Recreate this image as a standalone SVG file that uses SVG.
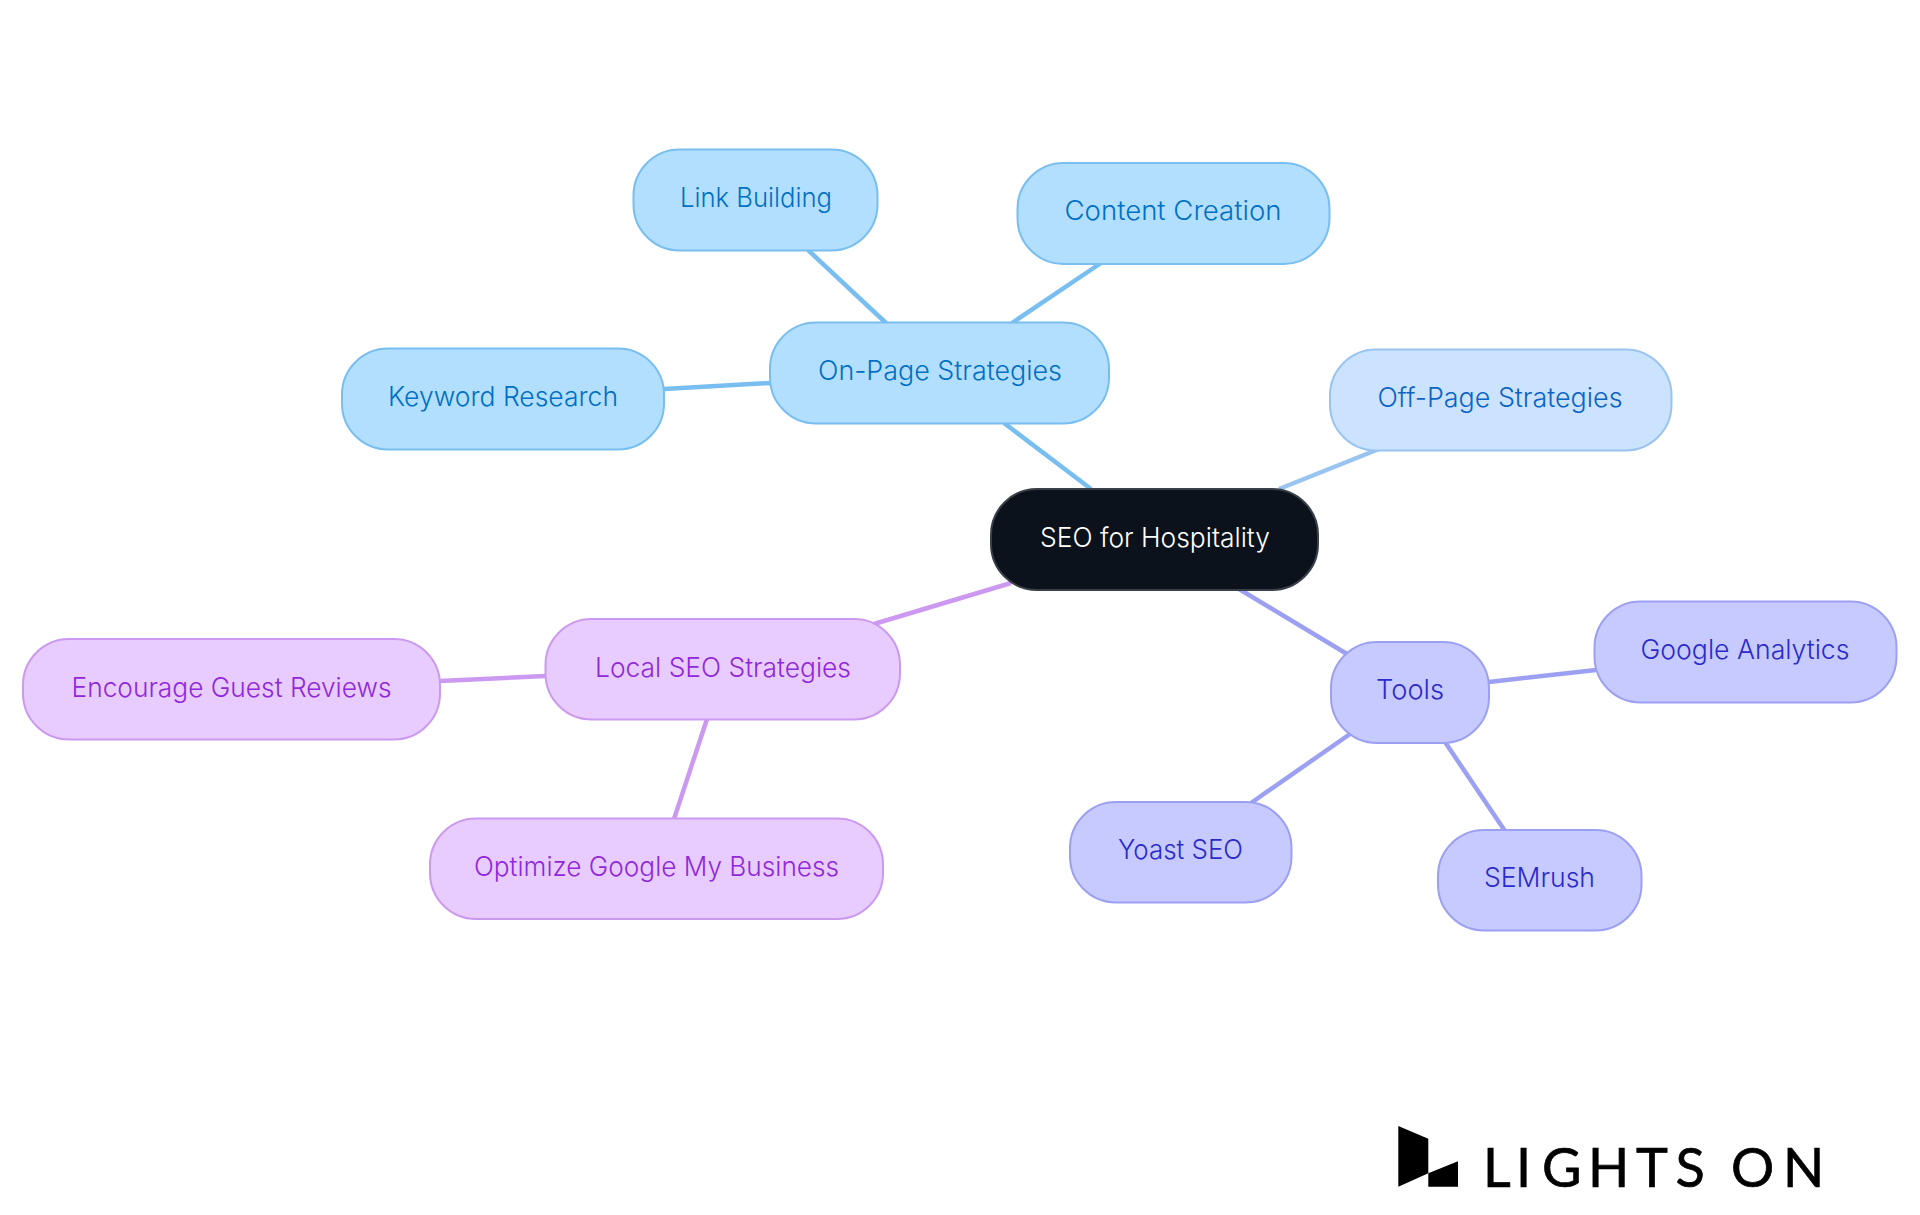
<svg xmlns="http://www.w3.org/2000/svg" width="1920" height="1215" viewBox="0 0 1920 1215">
<style>
.n rect{stroke-width:2}
.n text{font-family:"Inter","Noto Sans",sans-serif;font-size:27px;font-weight:350;text-anchor:middle}
.blue rect{fill:#B3DFFF;stroke:#78BEF0}.blue text{fill:#0070C4}
.off rect{fill:#CCE3FF;stroke:#99C4F0}.off text{fill:#0B63C5}
.ind rect{fill:#C7CAFF;stroke:#9CA0F2}.ind text{fill:#2B2BC9}
.pur rect{fill:#E8CCFF;stroke:#CC99F0}.pur text{fill:#9028D9}
.root rect{fill:#0B121B;stroke:#3A4048}.root text{fill:#FFFFFF}
#connectors line{stroke-width:4.500;stroke-linecap:butt}
.lb{stroke:#78BEF0}.lo{stroke:#99C4F0}.li{stroke:#9CA0F2}.lp{stroke:#CC99F0}
</style>
<rect width="1920" height="1215" fill="#FFFFFF"/>
<g id="connectors">
<line class="lb" x1="1091" y1="489" x2="1004" y2="423"/>
<line class="lb" x1="1012" y1="323" x2="1101" y2="263"/>
<line class="lb" x1="886" y1="323" x2="808" y2="250"/>
<line class="lb" x1="770" y1="383" x2="664" y2="389"/>
<line class="lo" x1="1279" y1="489" x2="1379" y2="449"/>
<line class="li" x1="1239" y1="589" x2="1347" y2="654"/>
<line class="li" x1="1489" y1="682" x2="1596" y2="670"/>
<line class="li" x1="1350" y1="734" x2="1251" y2="803"/>
<line class="li" x1="1445" y1="742" x2="1505" y2="831"/>
<line class="lp" x1="1011" y1="583" x2="874" y2="624"/>
<line class="lp" x1="546" y1="676" x2="440" y2="681"/>
<line class="lp" x1="707" y1="719" x2="674" y2="819"/>
</g>
<g id="n-root" class="n root"><rect x="991" y="489" width="327" height="101" rx="46"/><text x="1155" y="546.500" textLength="230" lengthAdjust="spacingAndGlyphs">SEO for Hospitality</text></g>
<g id="n-onpage" class="n blue"><rect x="770" y="322.500" width="339" height="101" rx="46"/><text x="940" y="379.500" textLength="244" lengthAdjust="spacingAndGlyphs">On-Page Strategies</text></g>
<g id="n-link" class="n blue"><rect x="633.500" y="149.500" width="244" height="101" rx="46"/><text x="756" y="207" textLength="152" lengthAdjust="spacingAndGlyphs">Link Building</text></g>
<g id="n-content" class="n blue"><rect x="1017.500" y="163" width="312" height="101" rx="46"/><text x="1173" y="220" textLength="217" lengthAdjust="spacingAndGlyphs">Content Creation</text></g>
<g id="n-keyword" class="n blue"><rect x="342" y="348.500" width="322" height="101" rx="46"/><text x="503" y="405.500" textLength="230" lengthAdjust="spacingAndGlyphs">Keyword Research</text></g>
<g id="n-off" class="n off"><rect x="1330" y="349.500" width="341.500" height="101" rx="46"/><text x="1500" y="406.500" textLength="245" lengthAdjust="spacingAndGlyphs">Off-Page Strategies</text></g>
<g id="n-tools" class="n ind"><rect x="1331" y="642" width="158" height="101" rx="46"/><text x="1410" y="699" textLength="68" lengthAdjust="spacingAndGlyphs">Tools</text></g>
<g id="n-ga" class="n ind"><rect x="1594.500" y="601.500" width="302" height="101" rx="46"/><text x="1745" y="658.500" textLength="209" lengthAdjust="spacingAndGlyphs">Google Analytics</text></g>
<g id="n-yoast" class="n ind"><rect x="1070" y="802" width="221.500" height="100.500" rx="46"/><text x="1180.500" y="859" textLength="125" lengthAdjust="spacingAndGlyphs">Yoast SEO</text></g>
<g id="n-semrush" class="n ind"><rect x="1438" y="830" width="203.500" height="100.500" rx="46"/><text x="1539.500" y="887" textLength="111" lengthAdjust="spacingAndGlyphs">SEMrush</text></g>
<g id="n-local" class="n pur"><rect x="545.500" y="619" width="354.500" height="100.500" rx="46"/><text x="723" y="676.500" textLength="256" lengthAdjust="spacingAndGlyphs">Local SEO Strategies</text></g>
<g id="n-reviews" class="n pur"><rect x="23" y="639" width="417" height="100.500" rx="46"/><text x="231.500" y="696.500" textLength="320" lengthAdjust="spacingAndGlyphs">Encourage Guest Reviews</text></g>
<g id="n-gmb" class="n pur"><rect x="430" y="818.500" width="453" height="100.500" rx="46"/><text x="656.500" y="875.500" textLength="365" lengthAdjust="spacingAndGlyphs">Optimize Google My Business</text></g>
<g id="logo">
<polygon points="1398.300,1126 1428.300,1138.700 1428.300,1173.300 1398.300,1186.700" fill="#000"/>
<polygon points="1428.300,1173.300 1458,1161.300 1458,1186.700 1428.300,1186.700" fill="#000"/>
<text x="1483 1516 1542 1588 1636 1675.500 1716 1731 1783" y="1187" font-family="Lato,sans-serif" font-size="54" fill="#000" stroke="#000" stroke-width="0.700">LIGHTS ON</text>
</g>
</svg>
